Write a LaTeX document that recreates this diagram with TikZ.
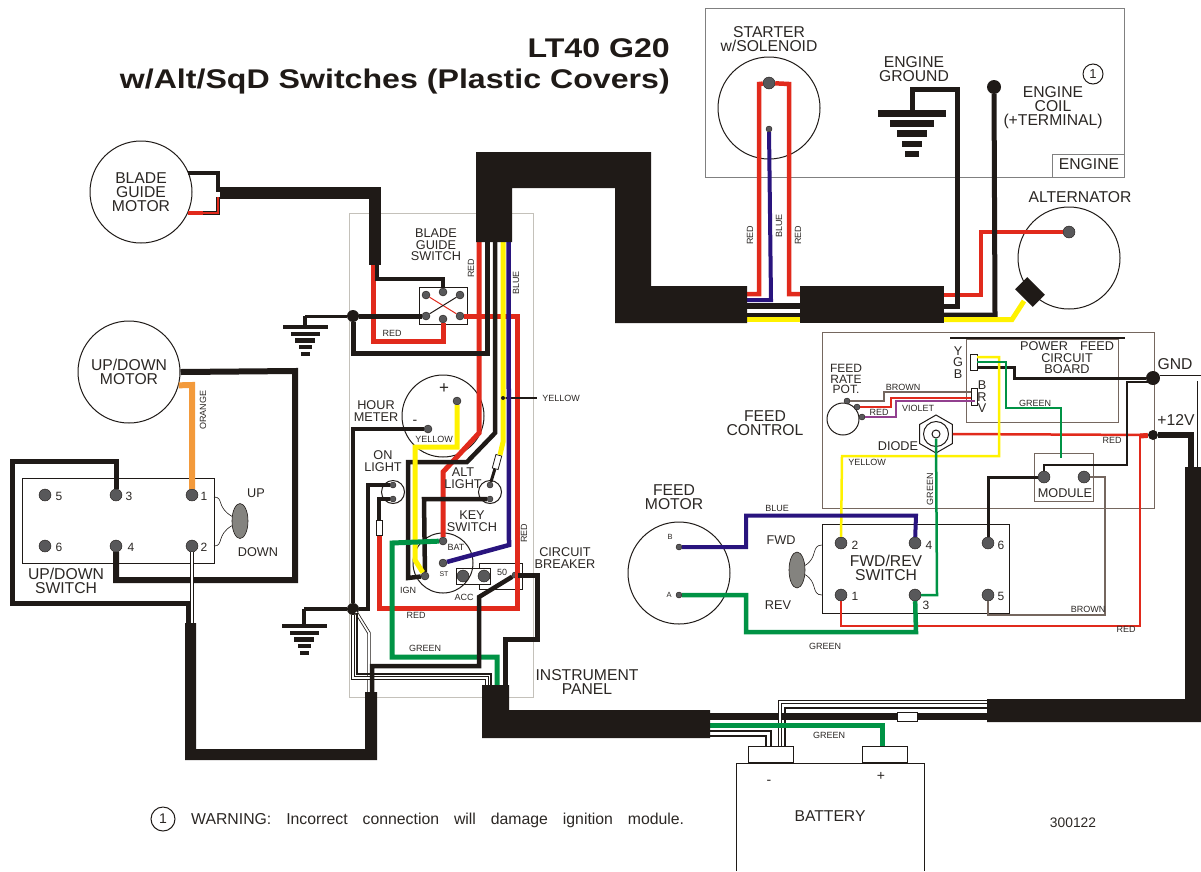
\documentclass[tikz,border=0pt]{standalone}
\usepackage{fontspec}
\setmainfont{Liberation Sans}
\usetikzlibrary{shapes.geometric}
\definecolor{wblack}{HTML}{1F1A17}
\definecolor{wred}{HTML}{E12A1C}
\definecolor{wblue}{HTML}{29147E}
\definecolor{wgreen}{HTML}{009345}
\definecolor{wyellow}{HTML}{FFF200}
\definecolor{worange}{HTML}{F39A3B}
\definecolor{wbrown}{HTML}{75675F}
\definecolor{wviolet}{HTML}{92408F}
\definecolor{termgray}{HTML}{58585A}
\definecolor{handlegray}{HTML}{84837F}
\definecolor{boxgray}{HTML}{C4C1BA}
\definecolor{txt}{HTML}{2B2724}
\tikzset{
  wire/.style={line width=#1, line join=miter},
  wire/.default=5pt,
  dwire/.style={line width=.8pt, draw=wblack, double=white, double distance=1.7pt, line join=miter},
  term/.style={circle, fill=termgray, draw=wblack, line width=.4pt, inner sep=0pt, minimum size=#1},
  term/.default=12pt,
  junct/.style={circle, fill=wblack, inner sep=0pt, minimum size=#1},
  motor/.style={circle, draw=wblack, line width=1pt, inner sep=0pt, minimum size=#1},
  fuse/.style={rectangle, draw=wblack, fill=white, line width=.8pt, inner sep=0pt},
  handle/.style={ellipse, draw=wblack, fill=handlegray, line width=.6pt, inner sep=0pt},
  biglabel/.style={font=\fontsize{15.7}{14}\selectfont, text=txt, align=center, inner sep=0pt},
  midlabel/.style={font=\fontsize{12.7}{11.5}\selectfont, text=txt, align=center, inner sep=0pt},
  wirelabel/.style={font=\fontsize{9}{9}\selectfont, text=txt, inner sep=0pt},
  numlabel/.style={font=\fontsize{12}{12}\selectfont, text=txt, inner sep=0pt},
  titlelabel/.style={anchor=east, xscale=1.19, font=\fontsize{27}{27}\selectfont\bfseries, text=wblack, inner sep=0pt},
}
\newcommand{\groundbars}[3]{%
  \begin{scope}[shift={(#1,#2)}, scale=#3]
    \fill[wblack] (-22.5,-2.3) rectangle (22.5,2.3);
    \fill[wblack] (-14.5,4.5) rectangle (14.5,9);
    \fill[wblack] (-10,11.3) rectangle (10,15.6);
    \fill[wblack] (-6.5,18) rectangle (6.5,22);
    \fill[wblack] (-4.5,24.7) rectangle (4.5,29);
  \end{scope}}
\begin{document}
\begin{tikzpicture}[x=1pt,y=-1pt]
\useasboundingbox (0,0) rectangle (1201,871);
% boxes
\draw [boxgray, line width=1pt] (349,213) rectangle (533,697);
\draw [gray, line width=1pt] (705,8) rectangle (1124,177);
\draw [gray, line width=1pt] (1052,177) |- (1124,154);
\draw [wbrown, line width=1pt] (822,332) rectangle (1154,508);
\draw [wbrown, line width=1pt] (966,339) rectangle (1118,422);
\draw [wblack, line width=2pt] (950,338) -- (1125,338);
\draw [wblack, line width=1pt] (22,478) rectangle (214,563);
\draw [wblack, line width=1pt] (822,524) rectangle (1009,613);
\draw [wbrown, line width=1pt] (1034,453) rectangle (1093,501);
\draw [wblack, line width=1pt] (419,287) rectangle (467,324);
\draw [wblack, line width=1pt] (479,563) rectangle (522,589);
\draw [wblack, line width=1pt, fill=white] (456,568) rectangle (490,584);
\draw [wblack, line width=1pt] (736,871) -- (736,763) -- (924,763) -- (924,871);
\draw [wblack, line width=1pt] (748,746) rectangle (793,762);
\draw [wblack, line width=1pt] (862,746) rectangle (907,762);
\draw [wblack, line width=1pt] (970,354) rectangle (977,370);
\draw [wblack, line width=1pt] (971,388) rectangle (977,405);
% motors and round parts
\node [motor=102pt, biglabel] (blademotor) at (141,192) {BLADE\\GUIDE\\MOTOR};
\node [motor=102pt, biglabel] (updownmotor) at (129,372) {UP/DOWN\\MOTOR};
\node [motor=102pt] (feedmotor) at (679,573) {};
\node [motor=102pt] (starter) at (769,108) {};
\node [motor=102pt] (alternator) at (1069,258) {};
\node [motor=82pt] (hourmeter) at (443,416) {};
\node [motor=60pt] (keyswitch) at (443,563) {};
\node [motor=23pt] (onlight) at (393,492) {};
\node [motor=23pt] (altlight) at (490,492) {};
\node [motor=32pt] (feedpot) at (843,419) {};
\node [motor=38pt, regular polygon, regular polygon sides=6, shape border rotate=30] (diode) at (936,434) {};
\node [motor=25pt] (diodering) at (936,434) {};
\node [motor=8pt] (diodehole) at (936,434) {};
% switch handles
\node [handle, minimum width=16pt, minimum height=35pt] (udhandle) at (240,521) {};
\node [handle, minimum width=16pt, minimum height=36pt] (frhandle) at (797,570) {};
\draw [wblack, line width=.6pt] (214,497) .. controls (224,497) and (216,507) .. (udhandle.150);
\draw [wblack, line width=.6pt] (214,546) .. controls (224,546) and (216,535) .. (udhandle.210);
\draw [wblack, line width=.6pt] (822,545) .. controls (811,545) and (818,558) .. (frhandle.30);
\draw [wblack, line width=.6pt] (822,595) .. controls (811,595) and (818,582) .. (frhandle.330);
% terminals
\foreach \name/\x/\y in {ud5/45/495, ud3/116/495, ud1/192/495, ud6/45/546, ud4/116/546, ud2/192/546,
    fr2/841/543, fr4/915/543, fr6/988/543, fr1/841/595, fr3/915/595, fr5/988/595,
    mod1/1044/477, mod2/1084/477, stsol/769/83, alt/1069/232, acc1/463/576, acc2/484/576} {
  \node [term] (\name) at (\x,\y) {};
}
\foreach \name/\x/\y in {bg1/426/295, bg2/443/292, bg3/460/295, bg4/426/316, bg5/443/319, bg6/460/316,
    bat/443/541, st/443/563, ign/425/576, hm1/457/401, hm2/428/429} {
  \node [term=8pt] (\name) at (\x,\y) {};
}
\foreach \name/\x/\y in {on1/393/485, on2/393/499, al1/490/485, al2/490/499, cb/515/575,
    stblue/769/129, pot1/847/401, pot2/857/407, pot3/862/417, mb/679/547, ma/679/595} {
  \node [term=6pt] (\name) at (\x,\y) {};
}
\node [junct=12pt] (jtop) at (353,316) {};
\node [junct=12pt] (jlow) at (353,609) {};
\node [junct=14pt] (jgnd) at (1153,378) {};
\node [junct=10pt] (jplus) at (1153,435) {};
\node [junct=14pt] (coil) at (994,87) {};
\node [fuse, minimum width=6pt, minimum height=15pt] (fuseon) at (379,528) {};
\node [fuse, minimum width=6pt, minimum height=14pt, rotate=-15] (fusealt) at (497,462) {};
\node [fuse, minimum width=20pt, minimum height=9pt] (fusebat) at (907,716.5) {};
% harness ends
\foreach \name/\x/\y in {hbred/479/242, hbk/487.5/242, hbkb/495/242, hbyel/503/242, hbblue/508.5/242,
    hsred/747/294, hsblue/747/300, hsbk/747/306, hsbkb/747/315, hsyel/747/319.5,
    heleft/800/306, herl/800/294, hebkb/800/315, heyel/800/319.5, her/944/295, hek/944/306, hec/944/315, hey/944/319.5,
    hip/497/685, hik/505/685, hilow/372/692, hi1/487/685, hi2/491/685, hib/710/716.5, hig/710/725, hiw1/710/731, hiw2/710/736,
    hrt1/987/702, hrt2/987/708, hrb/987/716.5, hrc/1191/467, hrw/1200.5/467, hl/188/623, hlw/192/623, hld/369/692} {
  \coordinate (\name) at (\x,\y);
}
% red wires
\draw [wire=5pt, wred] (bg6) -- (517,316) -- (517,608) -- (379,608) -- (fuseon);
\draw [wire=5pt, wred] (hbred) -- (479,433) -- (443,472) -- (bat);
\draw [wire=5pt, wred] (373,265) -- (373,341) -- (443,341) -- (bg5);
\draw [wire=4.5pt, wred] (stsol) -- (759,84) -- (759,294) -- (hsred);
\draw [wire=4.5pt, wred] (stsol) -- (789,84) -- (789,294) -- (herl);
\draw [wire=4.5pt, wred] (her) -- (981,295) -- (981,232) -- (alt);
\draw [wire=2.5pt, wred] (diode.east) -- (jplus);
\draw [wire=5pt, wred] (1140,436) -- (jplus);
\draw [wire=2.2pt, wred] (fr1) -- (841,626) -- (1140,626) -- (1140,436);
\draw [wire=2.5pt, wred] (pot2) -- (891,407) -- (891,398) -- (971,398);
\draw [wire=1pt, wred] (bg1) -- (bg6);
\draw [wire=4pt, wred] (188,213) -- (205,213);
% black wires
\draw [wire=5pt, wblack] (jtop) -- (bg4);
\draw [wire=5pt, wblack] (jtop) -- (353,353) -- (487.5,353) -- (hbk);
\draw [wire=3pt, wblack] (305,316) -- (jtop);
\draw [wire=4pt, wblack] (305,316) -- (305,327);
\draw [wire=4pt, wblack] (377,265) -- (377,279) -- (443,279) -- (bg2);
\draw [wire=1pt, wblack] (bg4) -- (bg3);
\draw [wire=4.5pt, wblack] (hbkb) -- (495,433) -- (467,462) -- (408,462) -- (408,578) -- (ign);
\draw [wire=4.5pt, wblack] (al2) -- (424,499) -- (ign);
\draw [wire=4.5pt, wblack] (hm2) -- (353,429) -- (jlow);
\draw [wire=4.5pt, wblack] (on1) -- (368,485) -- (368,609) -- (jlow);
\draw [wire=4.5pt, wblack] (on2) -- (379,499) -- (fuseon);
\draw [wire=3pt, wblack] (fusealt) -- (al1);
\draw [wire=4pt, wblack] (304,609) -- (jlow);
\draw [wire=4pt, wblack] (304,609) -- (304,626);
\draw [wire=3.5pt, wblack] (188,173) -- (218,173) -- (218,192);
\draw [wire=4pt, wblack] (203,213) -- (218,213) -- (218,197);
\draw [wire=2pt, wred] (203,213) -- (218,213) -- (218,197);
\draw [wire=12pt, wblack] (220,192.5) -- (375,192.5) -- (375,265);
\draw [wire=5pt, wblack] (ud3) -- (116,461) -- (12,461) -- (12,603) -- (188,603) -- (hl);
\draw [wire=6pt, wblack] (updownmotor.east) -- (295,371) -- (295,580) -- (116,580) -- (ud4);
\draw [wire=5pt, wblack] (hek) -- (957,306) -- (957,89) -- (912,89) -- (912,110);
\draw [wire=5pt, wblack] (hec) -- (995,315) -- (coil);
\draw [wire=3pt, wblack] (977,367) -- (1014,367) -- (1014,378) -- (jgnd);
\draw [wire=2.5pt, wblack] (mod1) -- (1044,465) -- (1127,465) -- (1127,382) -- (1150,382);
\draw [wire=3pt, wblack] (mod1) -- (988,477) -- (fr6);
\draw [wire=2pt, wblack] (502,398) -- (537,398);
\draw [wire=6.5pt, wblack] (jplus) -- (1191,435) -- (hrc);
\draw [wire=7pt, wblack] (hib) -- (fusebat) -- (hrb);
% white wires
\draw [dwire] (ud2) -- (hlw);
\draw [dwire] (356,612) -- (369,633) -- (hld);
\draw [dwire] (jlow) -- (353,678) -- (487,678) -- (hi1);
\draw [wire=2pt, wblack] (357,613) -- (357,674) -- (491,674) -- (hi2);
\draw [dwire, double distance=5pt] (jgnd.east) -- (1200.5,378) -- (hrw);
\draw [dwire] (hrt1) -- (780,702) -- (780,746);
\draw [wire=2pt, wblack] (hrt2) -- (785,708) -- (785,746);
\draw [wire=2pt, wblack] (hiw1) -- (771,731) -- (771,746);
\draw [wire=2pt, wblack] (hiw2) -- (766,736) -- (766,746);
% yellow wires
\draw [wire=5pt, wyellow] (hbyel) -- (503,442) -- (500,455);
\draw [wire=5pt, wyellow] (hm1) -- (457,447) -- (415,447) -- (415,560) -- (ign);
\draw [wire=5pt, wyellow] (hey) -- (1012,319.5) -- (1024,301);
\draw [wire=2.5pt, wyellow] (977,357) -- (999,357) -- (999,456) -- (842,456) -- (fr2);
\node [junct=4pt] (yeldot) at (503,398) {};
% blue wires
\draw [wire=4.5pt, wblue] (hbblue) -- (509,545) -- (st);
\draw [wire=4pt, wblue] (stblue) -- (771,300) -- (hsblue);
\draw [wire=4pt, wblue] (mb) -- (746,547) -- (746,515.5) -- (916,515.5) -- (fr4);
% green wires
\draw [wire=5pt, wgreen] (bat) -- (392,543) -- (392,657) -- (497,657) -- (hip);
\draw [wire=4.5pt, wgreen] (ma) -- (746,595) -- (746,632) -- (916,632) -- (fr3);
\draw [wire=2.5pt, wgreen] (fr3) -- (937,595) -- (diodehole);
\draw [wire=2.5pt, wgreen] (977,362) -- (1006,362) -- (1006,408) -- (1061,408) -- (1061,458);
\draw [wire=5pt, wgreen] (hig) -- (882,725) -- (882,746);
% black wires that lie on the others
\draw [wire=4.5pt, wblack] (cb) -- (479,597) -- (479,666) -- (372,666) -- (hilow);
\draw [wire=5pt, wblack] (cb) -- (537,575) -- (537,639) -- (505,639) -- (hik);
\draw [wire=6pt, wblack] (hsbk) -- (heleft);
\draw [wire=4.5pt, wblack] (hsbkb) -- (hebkb);
\draw [wire=5pt, wyellow] (hsyel) -- (heyel);
% orange and the other feed wires
\draw [wire=6pt, worange] (updownmotor.-15) -- (192,385) -- (ud1);
\draw [wire=2.5pt, wbrown] (pot1) -- (884,401) -- (884,392) -- (971,392);
\draw [wire=2.5pt, wviolet] (pot3) -- (896,417) -- (896,401) -- (975,401);
\draw [wire=2.5pt, wbrown] (mod2) -- (1105,477) -- (1105,615) -- (988,615) -- (fr5);
% harnesses
\fill [wblack] (476,152) -- (651,152) -- (651,286) -- (747,286) -- (747,323) -- (615,323) -- (615,188) -- (512,188) -- (512,242) -- (476,242) -- cycle;
\fill [wblack] (800,286) rectangle (944,323);
\fill [wblack] (482,685) -- (509,685) -- (509,710) -- (710,710) -- (710,738) -- (482,738) -- cycle;
\fill [wblack] (987,699) -- (1185,699) -- (1185,467) -- (1201,467) -- (1201,722) -- (987,722) -- cycle;
\fill [wblack] (365,692) -- (377,692) -- (377,760) -- (185,760) -- (185,623) -- (196,623) -- (196,749) -- (365,749) -- cycle;
\node [rectangle, fill=wblack, minimum width=25pt, minimum height=17pt, inner sep=0pt, rotate=-45] (altplug) at (1030,292) {};
% grounds
\groundbars{305}{327}{1}
\groundbars{304}{626}{1}
\groundbars{912}{113.5}{1.5}
% title
\node [titlelabel] (title1) at (670,48) {LT40 G20};
\node [titlelabel] (title2) at (670,82) {w/Alt/SqD Switches (Plastic Covers)};
% big labels
\node [biglabel] (l1) at (769,39) {STARTER\\w/SOLENOID};
\node [biglabel] (l2) at (914,69) {ENGINE\\GROUND};
\node [biglabel] (l3) at (1053,108) {ENGINE\\COIL\\(+TERMINAL)};
\node [biglabel] (l4) at (1089,164) {ENGINE};
\node [biglabel] (l5) at (1080,197) {ALTERNATOR};
\node [biglabel] (l6) at (66,581) {UP/DOWN\\SWITCH};
\node [biglabel] (l7) at (765,423) {FEED\\CONTROL};
\node [biglabel] (l8) at (674,497) {FEED\\MOTOR};
\node [biglabel] (l9) at (886,568) {FWD/REV\\SWITCH};
\node [biglabel] (l10) at (587,682) {INSTRUMENT\\PANEL};
\node [biglabel] (l11) at (830,816) {BATTERY};
\node [biglabel] (l12) at (1175,364) {GND};
\node [biglabel] (l13) at (1176,420) {+12V};
% middle labels
\node [midlabel] (m1) at (436,245) {BLADE\\GUIDE\\SWITCH};
\node [midlabel] (m2) at (376,411) {HOUR\\METER};
\node [midlabel] (m3) at (383,461) {ON\\LIGHT};
\node [midlabel] (m4) at (463,478) {ALT\\LIGHT};
\node [midlabel] (m5) at (472,521) {KEY\\SWITCH};
\node [midlabel] (m6) at (565,558) {CIRCUIT\\BREAKER};
\node [midlabel, font=\fontsize{12}{10.5}\selectfont] (m7) at (846,379) {FEED\\RATE\\POT.};
\node [midlabel] (m8) at (1067,358) {POWER\hspace{12pt}FEED\\CIRCUIT\\BOARD};
\node [midlabel] (m9) at (1065,493) {MODULE};
\node [midlabel] (m10) at (898,446) {DIODE};
\node [midlabel] (m11) at (256,493) {UP};
\node [midlabel] (m12) at (258,552) {DOWN};
\node [midlabel] (m13) at (958,362.5) {Y\\G\\B};
\node [midlabel] (m14) at (982,397) {B\\R\\V};
\node [midlabel] (m15) at (781,540) {FWD};
\node [midlabel] (m16) at (778,605) {REV};
% wire labels
\node [wirelabel, rotate=90] (w1) at (203,410) {ORANGE};
\node [wirelabel, rotate=90] (w2) at (471,268) {RED};
\node [wirelabel, rotate=90] (w3) at (516,283) {BLUE};
\node [wirelabel, rotate=90] (w4) at (524,533) {RED};
\node [wirelabel, rotate=90] (w5) at (750,235) {RED};
\node [wirelabel, rotate=90] (w6) at (779,226) {BLUE};
\node [wirelabel, rotate=90] (w7) at (798,235) {RED};
\node [wirelabel, rotate=90] (w8) at (930,489) {GREEN};
\foreach \name/\x/\y/\word in {w9/392/333/RED, w10/561/398/YELLOW, w11/434/439/YELLOW, w12/416/615/RED, w13/425/648/GREEN,
    w14/903/387/BROWN, w15/879/412/RED, w16/918/408/VIOLET, w17/867/462/YELLOW, w18/1035/403/GREEN, w19/1112/440/RED,
    w20/1088/609/BROWN, w21/1126/629/RED, w22/825/646/GREEN, w23/777/508/BLUE, w24/829/735/GREEN,
    w25/408/590/IGN, w26/464/597/ACC, w27/456/547/BAT, w28/502/572/50} {
  \node [wirelabel] (\name) at (\x,\y) {\word};
}
\node [wirelabel, font=\fontsize{7}{7}\selectfont] (w29) at (444,574) {ST};
\node [wirelabel, font=\fontsize{7.5}{7.5}\selectfont] (w30) at (670,537) {B};
\node [wirelabel, font=\fontsize{7.5}{7.5}\selectfont] (w31) at (669,595) {A};
% switch numbers
\foreach \name/\x/\y/\num in {n1/59/496/5, n2/129/496/3, n3/204/496/1, n4/59/547/6, n5/131/547/4, n6/204/547/2,
    n7/855/545/2, n8/929/545/4, n9/1001/545/6, n10/855/596/1, n11/926/605/3, n12/1001/596/5} {
  \node [numlabel] (\name) at (\x,\y) {\num};
}
\node [numlabel, font=\fontsize{17}{17}\selectfont] (hmplus) at (444,389) {+};
\node [numlabel, font=\fontsize{14}{14}\selectfont] (hmminus) at (415,422) {-};
\node [numlabel, font=\fontsize{14}{14}\selectfont] (batminus) at (769,782) {-};
\node [numlabel, font=\fontsize{14}{14}\selectfont] (batplus) at (881,776) {+};
\node [numlabel, font=\fontsize{13.8}{13.8}\selectfont] (partno) at (1073,823) {300122};
% warning notes
\node [motor=20pt, font=\fontsize{13}{13}\selectfont, text=txt] (note1) at (1093,74) {1};
\node [motor=24pt, font=\fontsize{14}{14}\selectfont, text=txt] (note2) at (163,819) {1};
\node [anchor=west, inner sep=0pt, font=\fontsize{15.8}{15.8}\selectfont, text=txt] (warning) at (191,820) {\makebox[493pt][s]{WARNING: Incorrect connection will damage ignition module.}};
\end{tikzpicture}
\end{document}
